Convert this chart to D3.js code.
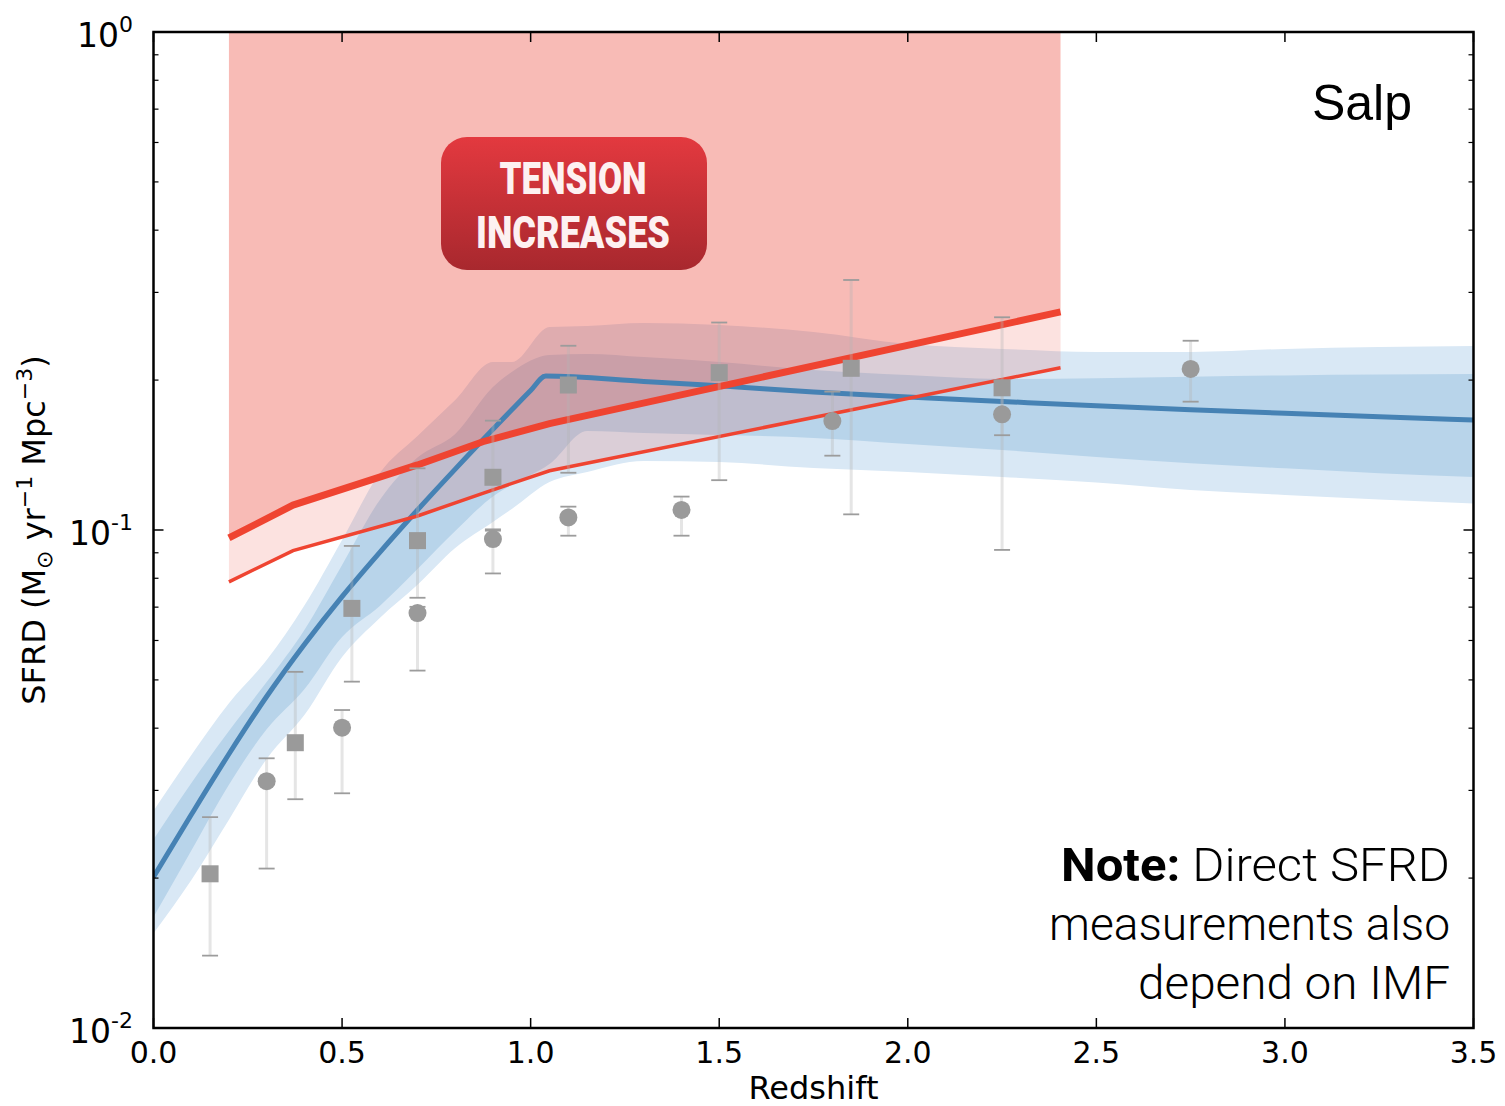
<!DOCTYPE html>
<html>
<head>
<meta charset="utf-8">
<script src="https://cdn.jsdelivr.net/npm/d3@7"></script>
<style>
  html, body { margin: 0; padding: 0; background: #fff; }
  svg { display: block; }
</style>
</head>
<body>
<svg id="chart" width="1505" height="1106"></svg>
<script>
// ---- Model: cosmic star-formation-rate density, median and 1σ / 2σ bands ----
const bandZ   = [0, 0.1, 0.2, 0.3, 0.4, 0.5, 0.6, 0.7, 0.8, 0.9, 0.95, 1.05, 1.15, 1.3, 1.5, 1.75, 2.0, 2.25, 2.5, 2.75, 3.0, 3.25, 3.5];
const band2Hi = [0.0273, 0.0353, 0.0449, 0.0548, 0.0705, 0.0955, 0.1302, 0.1545, 0.1824, 0.2174, 0.2174, 0.2556, 0.2568, 0.2604, 0.2580, 0.2498, 0.2363, 0.2310, 0.2278, 0.2278, 0.2310, 0.2331, 0.2342];
const band1Hi = [0.0239, 0.0310, 0.0395, 0.0495, 0.0630, 0.0851, 0.1149, 0.1398, 0.1559, 0.1937, 0.2076, 0.2246, 0.2257, 0.2225, 0.2174, 0.2095, 0.2047, 0.2010, 0.2016, 0.2031, 0.2044, 0.2052, 0.2057];
const band1Lo = [0.0167, 0.0227, 0.0308, 0.0398, 0.0479, 0.0610, 0.0704, 0.0835, 0.0995, 0.1168, 0.1233, 0.1357, 0.1581, 0.1566, 0.1552, 0.1531, 0.1489, 0.1448, 0.1402, 0.1361, 0.1330, 0.1300, 0.1278];
const band2Lo = [0.0155, 0.0198, 0.0262, 0.0347, 0.0425, 0.0556, 0.0666, 0.0776, 0.0920, 0.1038, 0.1102, 0.1248, 0.1308, 0.1376, 0.1369, 0.1332, 0.1308, 0.1278, 0.1245, 0.1203, 0.1176, 0.1152, 0.1131];

const fitZ    = [0, 0.1, 0.2, 0.3, 0.4, 0.5, 0.6, 0.7, 0.8, 0.9, 0.95, 1.0, 1.04, 1.3, 1.5, 1.75, 2.0, 2.25, 2.5, 2.75, 3.0, 3.25, 3.5];
const fitSFRD = [0.0201, 0.0268, 0.0355, 0.0463, 0.0589, 0.0735, 0.0902, 0.1097, 0.1325, 0.1593, 0.1743, 0.1906, 0.2038, 0.1988, 0.1948, 0.1892, 0.1849, 0.1812, 0.1776, 0.1744, 0.1715, 0.1688, 0.1663];

// ---- Lower bounds that mark the tension region (Salpeter IMF) ----
const boundZ      = [0.2, 0.37, 0.7, 0.873, 1.05, 2.405];
const boundStrong = [0.0964, 0.1122, 0.1351, 0.1504, 0.1635, 0.2741];
const boundWeak   = [0.0787, 0.0909, 0.1067, 0.1185, 0.1315, 0.2118];
const regionTop   = 1.0;

// ---- Direct SFRD measurements ----
const squareZ  = [0.15, 0.376, 0.526, 0.70, 0.90, 1.10, 1.50, 1.85, 2.25];
const squareV  = [0.0204, 0.0374, 0.0696, 0.0952, 0.1276, 0.1955, 0.207, 0.2112, 0.193];
const squareLo = [0.01397, 0.0288, 0.0496, 0.0731, 0.1003, 0.1303, 0.1259, 0.1075, 0.0912];
const squareHi = [0.0265, 0.0519, 0.0929, 0.133, 0.1658, 0.2344, 0.261, 0.3177, 0.2674];

const circleZ  = [0.30, 0.50, 0.70, 0.90, 1.10, 1.40, 1.80, 2.25, 2.75];
const circleV  = [0.0313, 0.0401, 0.0681, 0.0959, 0.106, 0.1097, 0.1655, 0.1707, 0.2106];
const circleLo = [0.0209, 0.0296, 0.0522, 0.0818, 0.0974, 0.0974, 0.141, 0.155, 0.181];
const circleHi = [0.0348, 0.0435, 0.0701, 0.0997, 0.1114, 0.1167, 0.1896, 0.187, 0.2399];

// ---- Axis ticks ----
const xTicks = [0, 0.5, 1.0, 1.5, 2.0, 2.5, 3.0, 3.5];
const xTickLabels = ["0.0", "0.5", "1.0", "1.5", "2.0", "2.5", "3.0", "3.5"];
const yTicks = [0.01, 0.1, 1];
const yTickExp = ["-2", "-1", "0"];

// ---- Layout ----
const svg = d3.select("#chart");
const L = 153.5, R = 1473.5, T = 32, B = 1028;
const x = d3.scaleLinear().domain([0, 3.5]).range([L, R]);
const y = d3.scaleLog().domain([0.01, 1]).range([B, T]);

const defs = svg.append("defs");
defs.append("clipPath").attr("id", "plotClip")
  .append("rect").attr("x", L).attr("y", T).attr("width", R - L).attr("height", B - T);
const grad = defs.append("linearGradient").attr("id", "boxGrad")
  .attr("x1", 0).attr("y1", 0).attr("x2", 0).attr("y2", 1);
grad.append("stop").attr("offset", "0%").attr("stop-color", "#e3393f");
grad.append("stop").attr("offset", "100%").attr("stop-color", "#a8282e");

const plot = svg.append("g").attr("clip-path", "url(#plotClip)");

// model bands
const bandRows = bandZ.map((z, i) => ({ z, lo2: band2Lo[i], hi2: band2Hi[i], lo1: band1Lo[i], hi1: band1Hi[i] }));
plot.append("path").datum(bandRows)
  .attr("d", d3.area().curve(d3.curveMonotoneX).x(d => x(d.z)).y0(d => y(d.lo2)).y1(d => y(d.hi2)))
  .attr("fill", "#d9e8f5");
plot.append("path").datum(bandRows)
  .attr("d", d3.area().curve(d3.curveMonotoneX).x(d => x(d.z)).y0(d => y(d.lo1)).y1(d => y(d.hi1)))
  .attr("fill", "#b8d4ea");

// tension region: translucent red above the bounds
const boundRows = boundZ.map((z, i) => ({ z, strong: boundStrong[i], weak: boundWeak[i] }));
plot.append("path").datum(boundRows)
  .attr("d", d3.area().x(d => x(d.z)).y0(d => y(d.weak)).y1(d => y(d.strong)))
  .attr("fill", "#eb3c2d").attr("fill-opacity", 0.15);
plot.append("path").datum(boundRows)
  .attr("d", d3.area().x(d => x(d.z)).y0(d => y(d.strong)).y1(() => y(regionTop)))
  .attr("fill", "#eb3c2d").attr("fill-opacity", 0.35);

// median model
plot.append("path").datum(fitZ.map((z, i) => ({ z, v: fitSFRD[i] })))
  .attr("d", d3.line().curve(d3.curveMonotoneX).x(d => x(d.z)).y(d => y(d.v)))
  .attr("fill", "none").attr("stroke", "#4682b4").attr("stroke-width", 5)
  .attr("stroke-linejoin", "round");

// bound lines
const boundLine = key => d3.line().x(d => x(d.z)).y(d => y(d[key]));
plot.append("path").datum(boundRows).attr("d", boundLine("weak"))
  .attr("fill", "none").attr("stroke", "#ef4431").attr("stroke-width", 3.5);
plot.append("path").datum(boundRows).attr("d", boundLine("strong"))
  .attr("fill", "none").attr("stroke", "#ef4431").attr("stroke-width", 7);

// measurements with error bars
const squares = squareZ.map((z, i) => ({ z, v: squareV[i], lo: squareLo[i], hi: squareHi[i] }));
const circles = circleZ.map((z, i) => ({ z, v: circleV[i], lo: circleLo[i], hi: circleHi[i] }));
const allPts = squares.concat(circles);
const eb = plot.append("g");
eb.selectAll("line.bar").data(allPts).join("line").attr("class", "bar")
  .attr("x1", d => x(d.z)).attr("x2", d => x(d.z))
  .attr("y1", d => y(d.lo)).attr("y2", d => y(d.hi))
  .attr("stroke", "#b4b4b4").attr("stroke-opacity", 0.35).attr("stroke-width", 3);
const capW = 8;
["lo", "hi"].forEach(k => {
  eb.selectAll("line.cap-" + k).data(allPts).join("line").attr("class", "cap-" + k)
    .attr("x1", d => x(d.z) - capW).attr("x2", d => x(d.z) + capW)
    .attr("y1", d => y(d[k])).attr("y2", d => y(d[k]))
    .attr("stroke", "#9c9c9c").attr("stroke-width", 1.8);
});
const side = 17;
plot.selectAll("rect.sq").data(squares).join("rect").attr("class", "sq")
  .attr("x", d => x(d.z) - side / 2).attr("y", d => y(d.v) - side / 2)
  .attr("width", side).attr("height", side).attr("fill", "#9a9a9a");
plot.selectAll("circle.ci").data(circles).join("circle").attr("class", "ci")
  .attr("cx", d => x(d.z)).attr("cy", d => y(d.v)).attr("r", 9)
  .attr("fill", "#9a9a9a");

// ---- "Tension increases" badge ----
const badge = svg.append("g");
badge.append("rect").attr("x", 441).attr("y", 137).attr("width", 266).attr("height", 133)
  .attr("rx", 26).attr("ry", 26).attr("fill", "url(#boxGrad)");
badge.append("text").attr("x", 573).attr("y", 193.5).attr("text-anchor", "middle")
  .attr("font-family", "Roboto, 'Liberation Sans', sans-serif").attr("font-weight", 900)
  .attr("font-size", 45).attr("fill", "#fdf1f1")
  .attr("textLength", 147).attr("lengthAdjust", "spacingAndGlyphs").text("TENSION");
badge.append("text").attr("x", 573).attr("y", 247.5).attr("text-anchor", "middle")
  .attr("font-family", "Roboto, 'Liberation Sans', sans-serif").attr("font-weight", 900)
  .attr("font-size", 45).attr("fill", "#fdf1f1")
  .attr("textLength", 194).attr("lengthAdjust", "spacingAndGlyphs").text("INCREASES");

// ---- Annotations ----
svg.append("text").attr("x", 1412).attr("y", 120).attr("text-anchor", "end")
  .attr("font-family", "'Liberation Sans', Arial, sans-serif").attr("font-size", 50)
  .attr("fill", "#000").text("Salp");

const noteFont = "Roboto, 'Liberation Sans', sans-serif";
const noteLine = (yPos, width) => svg.append("text").attr("x", 1450).attr("y", yPos).attr("text-anchor", "end")
  .attr("font-family", noteFont).attr("font-size", 47).attr("font-weight", 300).attr("fill", "#000")
  .attr("textLength", width).attr("lengthAdjust", "spacingAndGlyphs");
const note1 = noteLine(881, 389);
note1.append("tspan").attr("font-weight", 700).text("Note:");
note1.append("tspan").text(" Direct SFRD");
noteLine(940, 401).text("measurements also");
noteLine(999, 312).text("depend on IMF");

// ---- Axes: ticks inside on all four sides ----
const axes = svg.append("g").attr("stroke", "#000");
const majorLen = 10, minorLen = 5;
xTicks.forEach(t => {
  axes.append("line").attr("x1", x(t)).attr("x2", x(t)).attr("y1", B).attr("y2", B - majorLen).attr("stroke-width", 1.5);
  axes.append("line").attr("x1", x(t)).attr("x2", x(t)).attr("y1", T).attr("y2", T + majorLen).attr("stroke-width", 1.5);
});
const minorY = [];
[0.01, 0.1].forEach(dec => { for (let m = 2; m <= 9; m++) minorY.push(dec * m); });
yTicks.forEach(t => {
  axes.append("line").attr("x1", L).attr("x2", L + majorLen).attr("y1", y(t)).attr("y2", y(t)).attr("stroke-width", 1.5);
  axes.append("line").attr("x1", R).attr("x2", R - majorLen).attr("y1", y(t)).attr("y2", y(t)).attr("stroke-width", 1.5);
});
minorY.forEach(t => {
  axes.append("line").attr("x1", L).attr("x2", L + minorLen).attr("y1", y(t)).attr("y2", y(t)).attr("stroke-width", 1.2);
  axes.append("line").attr("x1", R).attr("x2", R - minorLen).attr("y1", y(t)).attr("y2", y(t)).attr("stroke-width", 1.2);
});
svg.append("rect").attr("x", L).attr("y", T).attr("width", R - L).attr("height", B - T)
  .attr("fill", "none").attr("stroke", "#000").attr("stroke-width", 2.5);

const tickFont = "'DejaVu Sans', sans-serif";
svg.append("g").selectAll("text").data(xTicks).join("text")
  .attr("x", d => x(d)).attr("y", 1063).attr("text-anchor", "middle")
  .attr("font-family", tickFont).attr("font-size", 30).attr("fill", "#000")
  .text((d, i) => xTickLabels[i]);

yTicks.forEach((t, i) => {
  const lab = svg.append("text").attr("x", 133).attr("y", y(t) + 15).attr("text-anchor", "end")
    .attr("font-family", tickFont).attr("font-size", 33).attr("fill", "#000");
  lab.append("tspan").text("10");
  lab.append("tspan").attr("dy", -15).attr("font-size", 22).text(yTickExp[i]);
});

svg.append("text").attr("x", (L + R) / 2).attr("y", 1099).attr("text-anchor", "middle")
  .attr("font-family", tickFont).attr("font-size", 32).attr("fill", "#000").text("Redshift");

const ylab = svg.append("text").attr("transform", `translate(45,${(T + B) / 2}) rotate(-90)`)
  .attr("text-anchor", "middle").attr("font-family", tickFont).attr("font-size", 32).attr("fill", "#000");
ylab.append("tspan").text("SFRD (M");
ylab.append("tspan").attr("dy", 7).attr("font-size", 22).text("⊙");
ylab.append("tspan").attr("dy", -7).text(" yr");
ylab.append("tspan").attr("dy", -13).attr("font-size", 22).text("−1");
ylab.append("tspan").attr("dy", 13).text(" Mpc");
ylab.append("tspan").attr("dy", -13).attr("font-size", 22).text("−3");
ylab.append("tspan").attr("dy", 13).text(")");
</script>
</body>
</html>
